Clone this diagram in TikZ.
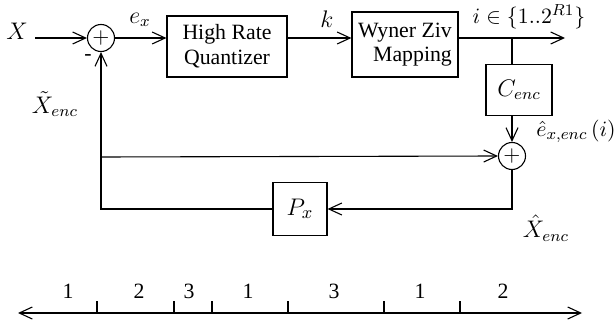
\documentclass[tikz,border=0pt]{standalone}
\usepackage{fontspec}
\setmainfont{Liberation Serif}
\usetikzlibrary{arrows.meta}
\begin{document}
\begin{tikzpicture}[x=0.5pt,y=-0.5pt,line width=0.55pt,
  font=\fontsize{10.9}{12.3}\selectfont,
  >={Straight Barb[length=6.5pt,width=6pt,line width=0.55pt]},
  blk/.style={draw,inner sep=0pt},
  sumnode/.style={draw,circle,minimum size=13.5pt,inner sep=0pt,font=\fontsize{10.5}{10}\selectfont},
  lbl/.style={inner sep=0pt},
  mlbl/.style={inner sep=0pt,font=\fontsize{11.6}{13}\selectfont}]
\useasboundingbox (0,0) rectangle (616,326);
% nodes
\node[mlbl] (xin) at (17,31) {$X$};
\coordinate (xs) at (35,38);
\node[sumnode] (s1) at (101,38) {$+$};
\node[mlbl] (ex) at (140,20) {$e_x$};
\node[blk,minimum width=60pt,minimum height=30.5pt,align=center] (hrq) at (227,46.5) {High Rate\\Quantizer};
\node[mlbl] (k) at (327,19) {$k$};
\node[blk,minimum width=53pt,minimum height=32.5pt,align=right] (wz) at (405,44.5) {Wyner Ziv\\Mapping};
\node[lbl] (il) at (529,17) {$i\in\{1..2^{R1}\}$};
\coordinate (out) at (565,38);
\coordinate (br) at (512,38);
\node[blk,minimum width=33pt,minimum height=25.5pt] (cenc) at (519,90) {\fontsize{11.6}{13}\selectfont$C_{enc}$};
\node[sumnode] (s2) at (512,156) {$+$};
\node[lbl] (eh) at (576,131) {$\hat e_{x,enc}\,(i)$};
\node[blk,minimum width=27pt,minimum height=26.5pt] (px) at (300,209) {\fontsize{12.5}{14}\selectfont$P_x$};
\node[mlbl] (xh) at (546,228) {$\hat X_{enc}$};
\node[mlbl] (xt) at (55,104) {$\tilde X_{enc}$};
\node[lbl] (minus) at (88,58) {-};
\coordinate (c1) at (512,209);
\coordinate (c2) at (101,209);
\coordinate (c3) at (101,157);
% connectors
\draw[->] (xs) -- (s1.west);
\draw[->] (s1.east) -- (s1 -| hrq.west);
\draw[->] (s1 -| hrq.east) -- (s1 -| wz.west);
\draw[->] (s1 -| wz.east) -- (out);
\draw (br) -- (br |- cenc.north);
\draw[->] (br |- cenc.south) -- (s2.north);
\draw[->] (c3) -- (s2.west);
\draw[->] (s2.south) -- (c1) -- (px.east);
\draw[->] (px.west) -- (c2) -- (s1.south);
% number line
\coordinate (la) at (18,313);
\coordinate (lb) at (582,313);
\draw[<->] (la) -- (lb);
\foreach \t in {97,174,212,288,384,460} \draw (\t,313) -- (\t,301);
\foreach \p/\n in {68/1,139/2,189/3,248/1,334/3,420/1,503/2}
  \node[lbl] at (\p,291) {\n};
\end{tikzpicture}
\end{document}
